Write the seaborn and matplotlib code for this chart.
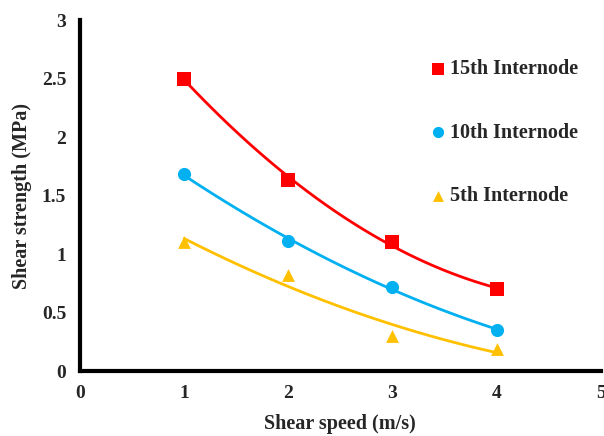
import numpy as np
import pandas as pd
import seaborn as sns
import matplotlib.pyplot as plt

# ============================================================
# Data
# ============================================================

speed = [1, 2, 3, 4]

internode_15 = [2.50, 1.63, 1.10, 0.70]
internode_10 = [1.68, 1.11, 0.72, 0.35]
internode_5 = [1.10, 0.82, 0.30, 0.19]

series_names = ["15th Internode", "10th Internode", "5th Internode"]
series_colors = ["#FF0000", "#00B0F0", "#FFC000"]
series_markers = ["s", "o", "^"]
series_sizes = [100, 90, 85]

x_ticks = [0, 1, 2, 3, 4, 5]
y_ticks = [0, 0.5, 1, 1.5, 2, 2.5, 3]
y_tick_labels = ["0", "0.5", "1", "1.5", "2", "2.5", "3"]

# ============================================================
# Style
# ============================================================

sns.set_style("white")
plt.rcParams["font.family"] = ["Liberation Serif", "DejaVu Serif"]
plt.rcParams["font.weight"] = "bold"

fig = plt.figure(figsize=(6.04, 4.36), dpi=100)
ax = fig.add_axes([0.1325, 0.149, 0.862, 0.805])

# ============================================================
# Series with 2nd order trend lines
# ============================================================

values = [internode_15, internode_10, internode_5]

for name, vals, col, mk, sz in zip(series_names, values, series_colors,
                                   series_markers, series_sizes):
    df = pd.DataFrame({"speed": speed, "strength": vals})
    sns.regplot(
        data=df, x="speed", y="strength", order=2, ci=None, ax=ax,
        marker=mk, color=col, label=name,
        scatter_kws={"s": sz, "linewidths": 0, "alpha": 1, "zorder": 3},
        line_kws={"lw": 2, "zorder": 2},
    )

# ============================================================
# Axes
# ============================================================

ax.set_xlim(0, 5)
ax.set_ylim(0, 3)
ax.set_xticks(x_ticks)
ax.set_yticks(y_ticks)
ax.set_yticklabels(y_tick_labels)
ax.tick_params(length=0, labelsize=14, pad=10)
for lab in ax.get_xticklabels() + ax.get_yticklabels():
    lab.set_fontweight("bold")

for side in ["top", "right"]:
    ax.spines[side].set_visible(False)
for side in ["left", "bottom"]:
    ax.spines[side].set_linewidth(3)
    ax.spines[side].set_color("black")

ax.set_xlabel("Shear speed (m/s)", fontsize=14.5, fontweight="bold", labelpad=9)
ax.set_ylabel("Shear strength (MPa)", fontsize=14.5, fontweight="bold", labelpad=7)

leg = ax.legend(
    loc="upper left", bbox_to_anchor=(0.645, 0.917), frameon=False,
    fontsize=14.5, labelspacing=2.15, handletextpad=0.0, handlelength=1.2,
    borderpad=0, scatterpoints=1, markerscale=0.85,
)
for t in leg.get_texts():
    t.set_fontweight("bold")

fig.savefig("out.png", dpi=100)
